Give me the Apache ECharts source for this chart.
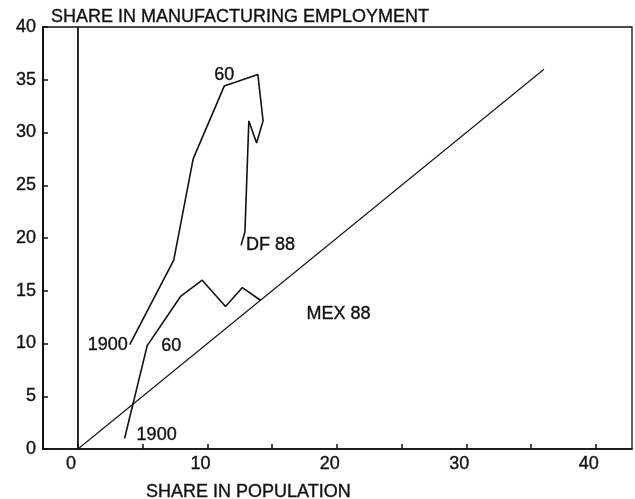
<!DOCTYPE html>
<html>
<head>
<meta charset="utf-8">
<script src="https://cdn.jsdelivr.net/npm/echarts@6/dist/echarts.min.js"></script>
<style>
  html, body { margin: 0; padding: 0; background: #fff; }
  #chart { width: 635px; height: 499px; }
</style>
</head>
<body>
<div id="chart"></div>
<script>
// DF (Mexico City) path, share in population vs share in manufacturing employment
var dfX = [4.0, 7.4, 8.9, 11.3, 13.9, 14.3, 13.8, 13.2, 12.9, 12.6];
var dfY = [9.9, 17.9, 27.5, 34.4, 35.5, 31.1, 29.0, 31.1, 20.6, 19.3];
// rest of Mexico path
var mexX = [3.6, 5.35, 7.95, 9.6, 11.4, 12.7, 14.1];
var mexY = [1.0, 9.8, 14.5, 16.0, 13.5, 15.3, 14.1];
// 45 degree line
var eqX = [0, 36];
var eqY = [0, 36];
// vertical line at zero
var zeroX = [0, 0];
var zeroY = [0, 40];

var xLabelValues = [0, 10, 20, 30, 40];
var xTickValues = [0, 5, 10, 15, 20, 25, 30, 35, 40];

var font = '"Liberation Sans", Arial, sans-serif';
// scanned print looks a bit heavy, thin outline on text
var ink = { color: '#111', fontFamily: font, textBorderColor: '#111', textBorderWidth: 0.35 };

function pairs(xs, ys){
  var out = [];
  for (var i = 0; i < xs.length; i++) out.push([xs[i], ys[i]]);
  return out;
}

// labels hung on some points
function withLabels(data, marks){
  return data.map(function(d, i){
    if (!marks[i]) return d;
    return { value: d, label: Object.assign({ show: true, fontSize: 18 }, ink, marks[i]) };
  });
}

var dfData = withLabels(pairs(dfX, dfY), {
  0: { formatter: '1900', position: 'left', distance: 2 },
  3: { formatter: '60', position: 'top', distance: 2 },
  9: { formatter: 'DF 88', position: 'right', distance: 5 }
});
var mexData = withLabels(pairs(mexX, mexY), {
  0: { formatter: '1900', position: 'right', distance: 12, offset: [0, -3] },
  1: { formatter: '60', position: 'right', distance: 14 },
  6: { formatter: 'MEX 88', position: 'right', distance: 46, offset: [0, 14] }
});

var lineBase = {
  type: 'line',
  symbol: 'circle',
  symbolSize: 0.1,
  showSymbol: true,
  silent: true,
  animation: false,
  itemStyle: { color: '#111' },
  lineStyle: { color: '#111', width: 1.6 }
};

var option = {
  backgroundColor: '#fff',
  animation: false,
  title: [
    { text: 'SHARE IN MANUFACTURING EMPLOYMENT', left: 46, top: 3,
      textStyle: Object.assign({ fontSize: 18, fontWeight: 'normal' }, ink) },
    { text: 'SHARE IN POPULATION', left: 141, top: 478,
      textStyle: Object.assign({ fontSize: 18, fontWeight: 'normal' }, ink) }
  ],
  grid: { left: 43, right: 3, top: 27, bottom: 50, show: true, borderColor: '#111', borderWidth: 1.3 },
  xAxis: {
    type: 'value',
    min: -2.7,
    max: 42.8,
    splitLine: { show: false },
    axisLine: { show: true, onZero: false, lineStyle: { color: '#111', width: 1.6 } },
    axisTick: { show: true, inside: true, length: 5, customValues: xTickValues, lineStyle: { color: '#111', width: 1.5 } },
    axisLabel: Object.assign({ customValues: xLabelValues, fontSize: 18, margin: 6, padding: [0, 14, 0, 0] }, ink)
  },
  yAxis: {
    type: 'value',
    min: 0,
    max: 40,
    interval: 5,
    splitLine: { show: false },
    axisLine: { show: true, onZero: false, lineStyle: { color: '#111', width: 2 } },
    axisTick: { show: true, inside: true, length: 5, lineStyle: { color: '#111', width: 1.5 } },
    axisLabel: Object.assign({ fontSize: 18, margin: 7 }, ink)
  },
  series: [
    Object.assign({}, lineBase, { name: 'zero', data: pairs(zeroX, zeroY), showSymbol: false, lineStyle: { color: '#111', width: 1.8 } }),
    Object.assign({}, lineBase, { name: 'equal', data: pairs(eqX, eqY), showSymbol: false, lineStyle: { color: '#111', width: 1.1 } }),
    Object.assign({}, lineBase, { name: 'DF', data: dfData }),
    Object.assign({}, lineBase, { name: 'MEX', data: mexData })
  ]
};

var chart = echarts.init(document.getElementById('chart'));
chart.setOption(option);
</script>
</body>
</html>
